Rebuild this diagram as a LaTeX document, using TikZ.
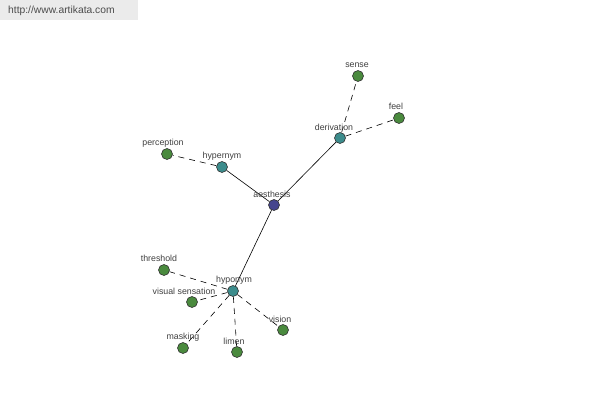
\documentclass[tikz,border=0pt]{standalone}
\usepackage{fontspec}
\setmainfont{Liberation Sans}
\begin{document}
\begin{tikzpicture}[x=1pt,y=-1pt,
  dot/.style={circle,draw=black!80,line width=0.6pt,minimum size=11pt,inner sep=0pt},
  rootdot/.style={dot,fill=rootc},
  middot/.style={dot,fill=midc},
  leafdot/.style={dot,fill=leafc},
  lbl/.style={font=\fontsize{8.8}{10}\selectfont,text=black!75,inner sep=0pt},
  solidedge/.style={draw=black,line width=0.6pt},
  dashedge/.style={draw=black,line width=0.6pt,dash pattern=on 6pt off 5pt}]
\definecolor{rootc}{HTML}{46468E}
\definecolor{midc}{HTML}{3C8C8C}
\definecolor{leafc}{HTML}{4A8A3E}
\useasboundingbox (0,0) rectangle (600,400);
\fill[white] (0,0) rectangle (600,400);
\fill[black!8] (0,0) rectangle (138,20);
\node[font=\fontsize{10.3}{12}\selectfont,text=black!70,anchor=west,inner sep=0pt] (url) at (8,11) {http://www.artikata.com};
% nodes
\node[rootdot] (aes) at (274,205) {};
\node[middot] (hyper) at (222,167) {};
\node[middot] (deriv) at (340,138) {};
\node[middot] (hypo) at (233,291) {};
\node[leafdot] (perc) at (167,154) {};
\node[leafdot] (sense) at (358,76) {};
\node[leafdot] (feel) at (399,118) {};
\node[leafdot] (thres) at (164,270) {};
\node[leafdot] (vis) at (192,302) {};
\node[leafdot] (mask) at (183,348) {};
\node[leafdot] (limen) at (237,352) {};
\node[leafdot] (vision) at (283,330) {};
% edges
\draw[solidedge] (aes) -- (hyper);
\draw[solidedge] (aes) -- (deriv);
\draw[solidedge] (aes) -- (hypo);
\draw[dashedge] (hyper) -- (perc);
\draw[dashedge] (deriv) -- (sense);
\draw[dashedge] (deriv) -- (feel);
\draw[dashedge] (hypo) -- (thres);
\draw[dashedge] (hypo) -- (vis);
\draw[dashedge] (hypo) -- (mask);
\draw[dashedge] (hypo) -- (limen);
\draw[dashedge] (hypo) -- (vision);
% labels
\node[lbl] (laes) at (272,194) {aesthesis};
\node[lbl] (lhyper) at (222,156) {hypernym};
\node[lbl] (lderiv) at (334,127) {derivation};
\node[lbl] (lhypo) at (234,280) {hyponym};
\node[lbl] (lperc) at (163,143) {perception};
\node[lbl] (lsense) at (357,65) {sense};
\node[lbl] (lfeel) at (396,106) {feel};
\node[lbl] (lthres) at (159,258) {threshold};
\node[lbl] (lvis) at (184,291) {visual sensation};
\node[lbl] (lmask) at (183,337) {masking};
\node[lbl] (llimen) at (234,341) {limen};
\node[lbl] (lvision) at (280,319) {vision};
\end{tikzpicture}
\end{document}
